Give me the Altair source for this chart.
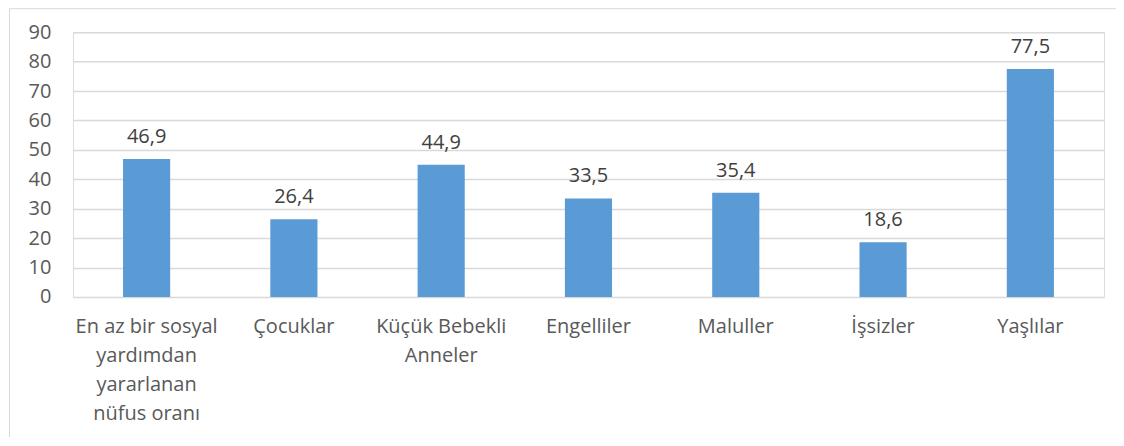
import altair as alt
import pandas as pd

categories = [
    "En az bir sosyal\nyardımdan\nyararlanan\nnüfus oranı",
    "Çocuklar",
    "Küçük Bebekli\nAnneler",
    "Engelliler",
    "Maluller",
    "İşsizler",
    "Yaşlılar",
]
values = [46.9, 26.4, 44.9, 33.5, 35.4, 18.6, 77.5]
y_ticks = [0, 10, 20, 30, 40, 50, 60, 70, 80, 90]

df = pd.DataFrame({
    "cat": categories,
    "val": values,
    "lbl": [f"{v:.1f}".replace(".", ",") for v in values],
})

FONT = "Open Sans"
FS = 20
W, H = 1032, 265

x = alt.X(
    "cat:N",
    sort=categories,
    scale=alt.Scale(paddingInner=0.68, paddingOuter=0.34),
    axis=alt.Axis(
        title=None,
        labelAngle=0,
        labelExpr="split(datum.label, '\\n')",
        labelFontSize=FS,
        labelColor="#595959",
        labelFont=FONT,
        labelLineHeight=29,
        labelPadding=20,
        labelBaseline="top",
        labelLimit=0,
        ticks=False,
        domain=False,
        grid=False,
    ),
)
y = alt.Y(
    "val:Q",
    scale=alt.Scale(domain=[0, 90], nice=False),
    axis=alt.Axis(
        title=None,
        values=y_ticks,
        labelFontSize=FS,
        labelColor="#595959",
        labelFont=FONT,
        labelPadding=22,
        ticks=False,
        domain=False,
        grid=True,
        gridColor="#d9d9d9",
        gridWidth=1.5,
    ),
)

base = alt.Chart(df)
bars = base.mark_bar(color="#5B9BD5").encode(x=x, y=y)
text = base.mark_text(
    baseline="bottom", dy=-12, fontSize=FS, font=FONT, color="#404040"
).encode(x=x, y=y, text="lbl:N")

frame_df = pd.DataFrame({"k": [0]})
left_border = alt.Chart(frame_df).mark_rule(color="#d9d9d9", strokeWidth=1).encode(
    x=alt.value(-63.5), y=alt.value(-23.5), y2=alt.value(440)
)
top_border = alt.Chart(frame_df).mark_rule(color="#d9d9d9", strokeWidth=1).encode(
    x=alt.value(-63.5), x2=alt.value(1060), y=alt.value(-23.5)
)

chart = (
    alt.layer(bars, text, left_border, top_border)
    .properties(
        width=W,
        height=H,
        autosize=alt.AutoSizeParams(type="none"),
        padding={"left": 65, "top": 24, "right": 12, "bottom": 140},
    )
    .configure_view(stroke=None)
    .configure(background="white")
)

chart.save("out.html", embed_options={"renderer": "svg", "actions": False})
